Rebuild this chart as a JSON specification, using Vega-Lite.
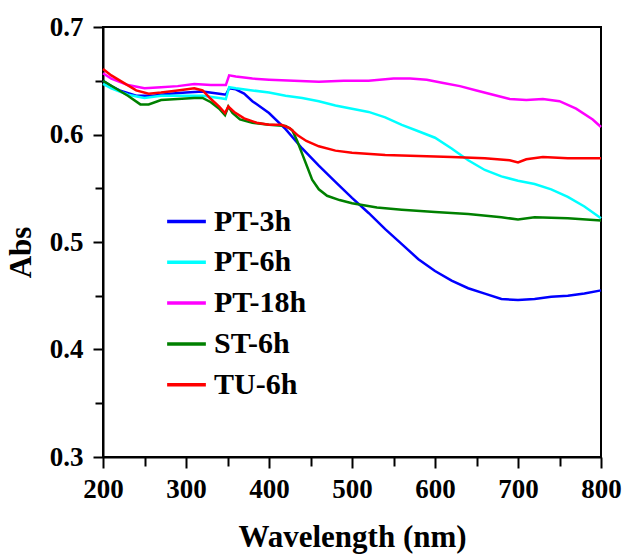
{
  "$schema": "https://vega.github.io/schema/vega-lite/v6.json",
  "width": 498,
  "height": 430,
  "autosize": {"type": "none"},
  "padding": {"left": 103, "top": 27, "right": 23, "bottom": 97},
  "background": "white",
  "config": {
    "view": {"stroke": "black", "strokeWidth": 2},
    "axis": {
      "labelFont": "Liberation Serif",
      "labelFontWeight": "bold",
      "labelFontSize": 27,
      "labelColor": "black",
      "labelFlush": false,
      "titleFont": "Liberation Serif",
      "titleFontWeight": "bold",
      "titleFontSize": 31,
      "titleColor": "black",
      "domainColor": "black",
      "domainWidth": 2,
      "tickColor": "black",
      "tickWidth": 2,
      "grid": false
    },
    "legend": {
      "labelFont": "Liberation Serif",
      "labelFontWeight": "bold",
      "labelFontSize": 30,
      "labelColor": "black"
    }
  },
  "data": {
    "values": [
      {"s":"PT-3h","x":200,"y":0.650},{"s":"PT-3h","x":210,"y":0.645},{"s":"PT-3h","x":220,"y":0.641},{"s":"PT-3h","x":240,"y":0.636},{"s":"PT-3h","x":260,"y":0.636},{"s":"PT-3h","x":280,"y":0.638},{"s":"PT-3h","x":300,"y":0.639},{"s":"PT-3h","x":320,"y":0.640},{"s":"PT-3h","x":340,"y":0.638},{"s":"PT-3h","x":348,"y":0.637},{"s":"PT-3h","x":352,"y":0.643},{"s":"PT-3h","x":360,"y":0.642},{"s":"PT-3h","x":370,"y":0.638},{"s":"PT-3h","x":380,"y":0.631},{"s":"PT-3h","x":400,"y":0.620},{"s":"PT-3h","x":420,"y":0.605},{"s":"PT-3h","x":440,"y":0.587},{"s":"PT-3h","x":460,"y":0.571},{"s":"PT-3h","x":480,"y":0.556},{"s":"PT-3h","x":500,"y":0.541},{"s":"PT-3h","x":520,"y":0.527},{"s":"PT-3h","x":540,"y":0.512},{"s":"PT-3h","x":560,"y":0.498},{"s":"PT-3h","x":580,"y":0.484},{"s":"PT-3h","x":600,"y":0.473},{"s":"PT-3h","x":620,"y":0.464},{"s":"PT-3h","x":640,"y":0.457},{"s":"PT-3h","x":660,"y":0.452},{"s":"PT-3h","x":680,"y":0.447},{"s":"PT-3h","x":700,"y":0.446},{"s":"PT-3h","x":720,"y":0.447},{"s":"PT-3h","x":740,"y":0.449},{"s":"PT-3h","x":760,"y":0.450},{"s":"PT-3h","x":780,"y":0.452},{"s":"PT-3h","x":800,"y":0.455},
      {"s":"PT-6h","x":200,"y":0.647},{"s":"PT-6h","x":210,"y":0.643},{"s":"PT-6h","x":230,"y":0.637},{"s":"PT-6h","x":250,"y":0.634},{"s":"PT-6h","x":270,"y":0.636},{"s":"PT-6h","x":300,"y":0.636},{"s":"PT-6h","x":320,"y":0.636},{"s":"PT-6h","x":340,"y":0.634},{"s":"PT-6h","x":348,"y":0.633},{"s":"PT-6h","x":352,"y":0.644},{"s":"PT-6h","x":360,"y":0.643},{"s":"PT-6h","x":380,"y":0.641},{"s":"PT-6h","x":400,"y":0.639},{"s":"PT-6h","x":420,"y":0.636},{"s":"PT-6h","x":440,"y":0.634},{"s":"PT-6h","x":460,"y":0.631},{"s":"PT-6h","x":480,"y":0.627},{"s":"PT-6h","x":500,"y":0.624},{"s":"PT-6h","x":520,"y":0.621},{"s":"PT-6h","x":540,"y":0.616},{"s":"PT-6h","x":560,"y":0.609},{"s":"PT-6h","x":580,"y":0.603},{"s":"PT-6h","x":600,"y":0.597},{"s":"PT-6h","x":620,"y":0.587},{"s":"PT-6h","x":640,"y":0.576},{"s":"PT-6h","x":660,"y":0.567},{"s":"PT-6h","x":680,"y":0.561},{"s":"PT-6h","x":700,"y":0.557},{"s":"PT-6h","x":720,"y":0.554},{"s":"PT-6h","x":740,"y":0.549},{"s":"PT-6h","x":760,"y":0.542},{"s":"PT-6h","x":780,"y":0.533},{"s":"PT-6h","x":800,"y":0.522},
      {"s":"PT-18h","x":200,"y":0.657},{"s":"PT-18h","x":210,"y":0.652},{"s":"PT-18h","x":230,"y":0.646},{"s":"PT-18h","x":250,"y":0.643},{"s":"PT-18h","x":270,"y":0.644},{"s":"PT-18h","x":290,"y":0.645},{"s":"PT-18h","x":310,"y":0.647},{"s":"PT-18h","x":330,"y":0.646},{"s":"PT-18h","x":348,"y":0.646},{"s":"PT-18h","x":352,"y":0.655},{"s":"PT-18h","x":360,"y":0.654},{"s":"PT-18h","x":380,"y":0.652},{"s":"PT-18h","x":400,"y":0.651},{"s":"PT-18h","x":430,"y":0.650},{"s":"PT-18h","x":460,"y":0.649},{"s":"PT-18h","x":490,"y":0.650},{"s":"PT-18h","x":520,"y":0.650},{"s":"PT-18h","x":550,"y":0.652},{"s":"PT-18h","x":570,"y":0.652},{"s":"PT-18h","x":590,"y":0.651},{"s":"PT-18h","x":610,"y":0.648},{"s":"PT-18h","x":630,"y":0.645},{"s":"PT-18h","x":650,"y":0.641},{"s":"PT-18h","x":670,"y":0.637},{"s":"PT-18h","x":690,"y":0.633},{"s":"PT-18h","x":710,"y":0.632},{"s":"PT-18h","x":730,"y":0.633},{"s":"PT-18h","x":750,"y":0.631},{"s":"PT-18h","x":770,"y":0.624},{"s":"PT-18h","x":790,"y":0.614},{"s":"PT-18h","x":800,"y":0.607},
      {"s":"ST-6h","x":200,"y":0.650},{"s":"ST-6h","x":215,"y":0.643},{"s":"ST-6h","x":230,"y":0.636},{"s":"ST-6h","x":245,"y":0.628},{"s":"ST-6h","x":255,"y":0.628},{"s":"ST-6h","x":270,"y":0.632},{"s":"ST-6h","x":290,"y":0.633},{"s":"ST-6h","x":310,"y":0.634},{"s":"ST-6h","x":320,"y":0.634},{"s":"ST-6h","x":330,"y":0.630},{"s":"ST-6h","x":340,"y":0.624},{"s":"ST-6h","x":347,"y":0.618},{"s":"ST-6h","x":351,"y":0.626},{"s":"ST-6h","x":356,"y":0.620},{"s":"ST-6h","x":365,"y":0.614},{"s":"ST-6h","x":380,"y":0.611},{"s":"ST-6h","x":400,"y":0.609},{"s":"ST-6h","x":420,"y":0.608},{"s":"ST-6h","x":428,"y":0.604},{"s":"ST-6h","x":434,"y":0.594},{"s":"ST-6h","x":440,"y":0.582},{"s":"ST-6h","x":446,"y":0.570},{"s":"ST-6h","x":452,"y":0.558},{"s":"ST-6h","x":460,"y":0.549},{"s":"ST-6h","x":470,"y":0.543},{"s":"ST-6h","x":485,"y":0.539},{"s":"ST-6h","x":500,"y":0.536},{"s":"ST-6h","x":530,"y":0.532},{"s":"ST-6h","x":560,"y":0.530},{"s":"ST-6h","x":600,"y":0.528},{"s":"ST-6h","x":640,"y":0.526},{"s":"ST-6h","x":680,"y":0.523},{"s":"ST-6h","x":700,"y":0.521},{"s":"ST-6h","x":720,"y":0.523},{"s":"ST-6h","x":760,"y":0.522},{"s":"ST-6h","x":800,"y":0.520},
      {"s":"TU-6h","x":200,"y":0.661},{"s":"TU-6h","x":210,"y":0.655},{"s":"TU-6h","x":225,"y":0.648},{"s":"TU-6h","x":240,"y":0.641},{"s":"TU-6h","x":255,"y":0.638},{"s":"TU-6h","x":270,"y":0.639},{"s":"TU-6h","x":290,"y":0.641},{"s":"TU-6h","x":310,"y":0.643},{"s":"TU-6h","x":320,"y":0.641},{"s":"TU-6h","x":330,"y":0.633},{"s":"TU-6h","x":340,"y":0.626},{"s":"TU-6h","x":347,"y":0.620},{"s":"TU-6h","x":351,"y":0.626},{"s":"TU-6h","x":358,"y":0.621},{"s":"TU-6h","x":370,"y":0.615},{"s":"TU-6h","x":385,"y":0.611},{"s":"TU-6h","x":400,"y":0.609},{"s":"TU-6h","x":415,"y":0.609},{"s":"TU-6h","x":425,"y":0.606},{"s":"TU-6h","x":435,"y":0.599},{"s":"TU-6h","x":445,"y":0.594},{"s":"TU-6h","x":460,"y":0.589},{"s":"TU-6h","x":480,"y":0.585},{"s":"TU-6h","x":500,"y":0.583},{"s":"TU-6h","x":540,"y":0.581},{"s":"TU-6h","x":580,"y":0.580},{"s":"TU-6h","x":620,"y":0.579},{"s":"TU-6h","x":660,"y":0.578},{"s":"TU-6h","x":690,"y":0.576},{"s":"TU-6h","x":700,"y":0.574},{"s":"TU-6h","x":710,"y":0.577},{"s":"TU-6h","x":730,"y":0.579},{"s":"TU-6h","x":760,"y":0.578},{"s":"TU-6h","x":800,"y":0.578}
    ]
  },
  "layer": [
    {
      "mark": {"type": "line", "opacity": 0},
      "encoding": {
        "x": {"field": "x", "type": "quantitative", "scale": {"domain": [200, 800], "nice": false, "zero": false},
              "axis": {"orient": "bottom", "values": [250, 350, 450, 550, 650, 750], "labels": false, "domain": false, "tickSize": 9, "title": null}},
        "y": {"field": "y", "type": "quantitative", "scale": {"domain": [0.3, 0.7], "nice": false, "zero": false},
              "axis": {"orient": "left", "values": [0.35, 0.45, 0.55, 0.65], "labels": false, "domain": false, "tickSize": 8, "title": null}}
      }
    },
    {
      "mark": {"type": "line", "strokeWidth": 2.5},
      "encoding": {
        "x": {"field": "x", "type": "quantitative", "scale": {"domain": [200, 800], "nice": false, "zero": false},
              "axis": {"orient": "bottom", "values": [200, 300, 400, 500, 600, 700, 800], "tickSize": 11, "labelPadding": 8, "title": "Wavelength (nm)", "titlePadding": 20}},
        "y": {"field": "y", "type": "quantitative", "scale": {"domain": [0.3, 0.7], "nice": false, "zero": false},
              "axis": {"orient": "left", "values": [0.3, 0.4, 0.5, 0.6, 0.7], "format": ".1f", "tickSize": 10, "labelPadding": 10, "title": "Abs", "titlePadding": 12, "titleY": 225}},
        "color": {"field": "s", "type": "nominal",
                  "scale": {"domain": ["PT-3h", "PT-6h", "PT-18h", "ST-6h", "TU-6h"], "range": ["#0000ff", "#00ffff", "#ff00ff", "#008000", "#ff0000"]},
                  "legend": {"title": null, "orient": "none", "legendX": 62, "legendY": 173, "symbolType": "stroke", "symbolSize": 1500, "symbolStrokeWidth": 3.5, "labelOffset": 6, "rowPadding": 3.8}}
      }
    }
  ],
  "resolve": {"axis": {"x": "independent", "y": "independent"}}
}
